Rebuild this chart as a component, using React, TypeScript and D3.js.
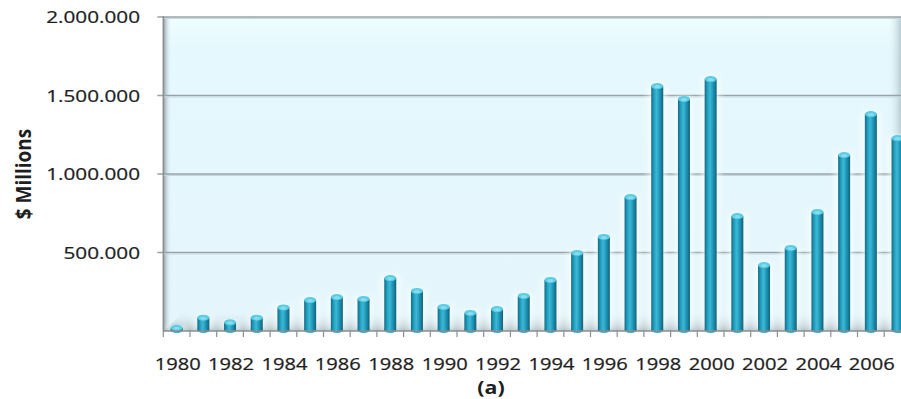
import React from "react";
import * as d3 from "d3";

const years = [1980,1981,1982,1983,1984,1985,1986,1987,1988,1989,1990,1991,1992,1993,1994,1995,1996,1997,1998,1999,2000,2001,2002,2003,2004,2005,2006,2007];
const values = [20000,85000,55000,85000,150000,197000,216000,204000,337000,255000,153000,115000,140000,223000,325000,497000,599000,853000,1560000,1478000,1605000,732000,420000,529000,758000,1121000,1382000,1229000];
const yTicks = [500000, 1000000, 1500000, 2000000];
const xLabelYears = [1980,1982,1984,1986,1988,1990,1992,1994,1996,1998,2000,2002,2004,2006];
const yTitle = "$ Millions";
const caption = "(a)";

const W = 901, H = 399;
const fmt = d3.formatLocale({ decimal: ",", thousands: ".", grouping: [3], currency: ["", "$"] }).format(",");

export default function App() {
  const left = 163.3, step = 26.7;
  const x = d3.scaleBand<number>().domain(years).range([left, left + years.length * step]).padding(0);
  const y = d3.scaleLinear().domain([0, 2000000]).range([331, 17]);
  const bw = 12;
  const font = "'Open Sans', 'DejaVu Sans', sans-serif";
  const sx = 1.22;
  const y0 = y(0);
  const txt = { fontFamily: font, fill: "#1e1e1e", stroke: "#1e1e1e", strokeWidth: 0.25 } as const;
  return (
    <div style={{ position: "absolute", left: 0, top: 0 }}>
      <svg width={W} height={H} style={{ display: "block", background: "#fff" }}>
        <defs>
          <linearGradient id="bg" x1="0" y1="0" x2="0" y2="1">
            <stop offset="0%" stopColor="#effeff" />
            <stop offset="10%" stopColor="#e5f8fd" />
            <stop offset="100%" stopColor="#e4f6fb" />
          </linearGradient>
          <linearGradient id="wall" x1="0" y1="0" x2="1" y2="0">
            <stop offset="0%" stopColor="#8f9a9f" />
            <stop offset="100%" stopColor="#e4f6fb" stopOpacity="0" />
          </linearGradient>
          <linearGradient id="rwall" x1="0" y1="0" x2="1" y2="0">
            <stop offset="0%" stopColor="#e4f6fb" stopOpacity="0" />
            <stop offset="100%" stopColor="#b8cdd3" />
          </linearGradient>
          <linearGradient id="floor" x1="0" y1="0" x2="0" y2="1">
            <stop offset="0%" stopColor="#e4f6fb" stopOpacity="0" />
            <stop offset="100%" stopColor="#9eabb1" stopOpacity="0.75" />
          </linearGradient>
          <linearGradient id="bar" x1="0" y1="0" x2="1" y2="0">
            <stop offset="0%" stopColor="#126b84" />
            <stop offset="25%" stopColor="#24a2c3" />
            <stop offset="45%" stopColor="#3bb8d6" />
            <stop offset="70%" stopColor="#2095b5" />
            <stop offset="100%" stopColor="#10627a" />
          </linearGradient>
          <filter id="glow" x="-50%" y="-10%" width="200%" height="120%">
            <feGaussianBlur stdDeviation="3" />
          </filter>
        </defs>

        {/* plot background */}
        <rect x={left} y={y(2000000)} width={W - left} height={y0 - y(2000000)} fill="url(#bg)" />
        <rect x={W - 13} y={y(2000000)} width={13} height={y0 - y(2000000)} fill="url(#rwall)" />
        <polygon points={`${left},${y0} ${left + 22},${y0 - 20} ${W},${y0 - 20} ${W},${y0}`} fill="url(#floor)" />
        <rect x={left} y={y(2000000)} width={8} height={y0 - y(2000000)} fill="url(#wall)" />

        {/* gridlines */}
        {yTicks.map(t => (
          <g key={t}>
            <line x1={left - 6} x2={W} y1={y(t)} y2={y(t)} stroke="#97a3a8" strokeWidth={1.6} />
            <line x1={left} x2={W} y1={y(t) + 1.5} y2={y(t) + 1.5} stroke="#c7d6db" strokeWidth={1} />
          </g>
        ))}

        {/* bar glows */}
        {years.map((yr, i) => {
          const cx = (x(yr) as number) + x.bandwidth() / 2;
          return (
            <rect key={"g" + yr} x={cx - bw / 2 - 3} y={y(values[i]) - 2} width={bw + 6} height={y0 - y(values[i]) + 2}
              fill="#ffffff" opacity={0.7} filter="url(#glow)" />
          );
        })}

        {/* bars */}
        {years.map((yr, i) => {
          const cx = (x(yr) as number) + x.bandwidth() / 2;
          const top = y(values[i]);
          const ry = 3;
          return (
            <g key={yr}>
              <ellipse cx={cx} cy={y0 - 1} rx={bw / 2} ry={ry} fill="url(#bar)" />
              <rect x={cx - bw / 2} y={top} width={bw} height={Math.max(0, y0 - 1 - top)} fill="url(#bar)" />
              <ellipse cx={cx} cy={top} rx={bw / 2} ry={ry} fill="#5ccbe4" />
              <ellipse cx={cx} cy={top + 0.5} rx={bw / 2 - 3} ry={ry - 1.5} fill="#8fe2f3" opacity={0.8} />
            </g>
          );
        })}

        {/* axes */}
        <line x1={left} x2={left} y1={y(2000000) - 1} y2={y0} stroke="#8a8f92" strokeWidth={1.5} />
        <line x1={left} x2={W} y1={y0} y2={y0} stroke="#8a8f92" strokeWidth={1.5} />
        {years.map(yr => (
          <line key={"t" + yr} x1={x(yr) as number} x2={x(yr) as number} y1={y0} y2={y0 + 6} stroke="#8a8f92" strokeWidth={1.2} />
        ))}
        <line x1={left + years.length * step} x2={left + years.length * step} y1={y0} y2={y0 + 6} stroke="#8a8f92" />

        {/* y tick labels */}
        {yTicks.map(t => (
          <text key={"l" + t} transform={`translate(140,${y(t)}) scale(${sx},1)`} dy="0.36em" textAnchor="end"
            fontSize={17} {...txt}>{fmt(t)}</text>
        ))}

        {/* x labels */}
        {xLabelYears.map(yr => (
          <text key={"x" + yr} transform={`translate(${(x(yr) as number) + x.bandwidth() / 2 + 1},370) scale(${sx},1)`}
            textAnchor="middle" fontSize={16.5} {...txt}>{yr}</text>
        ))}

        {/* y title */}
        <text transform={`translate(31,174) rotate(-90) scale(1,1.15)`} textAnchor="middle" fontFamily={font}
          fontWeight="bold" fontSize={19} fill="#1e1e1e">{yTitle}</text>

        {/* caption */}
        <text transform={`translate(491,394) scale(${sx},1)`} textAnchor="middle" fontFamily={font}
          fontWeight="bold" fontSize={17.5} fill="#1e1e1e">{caption}</text>
      </svg>
    </div>
  );
}
